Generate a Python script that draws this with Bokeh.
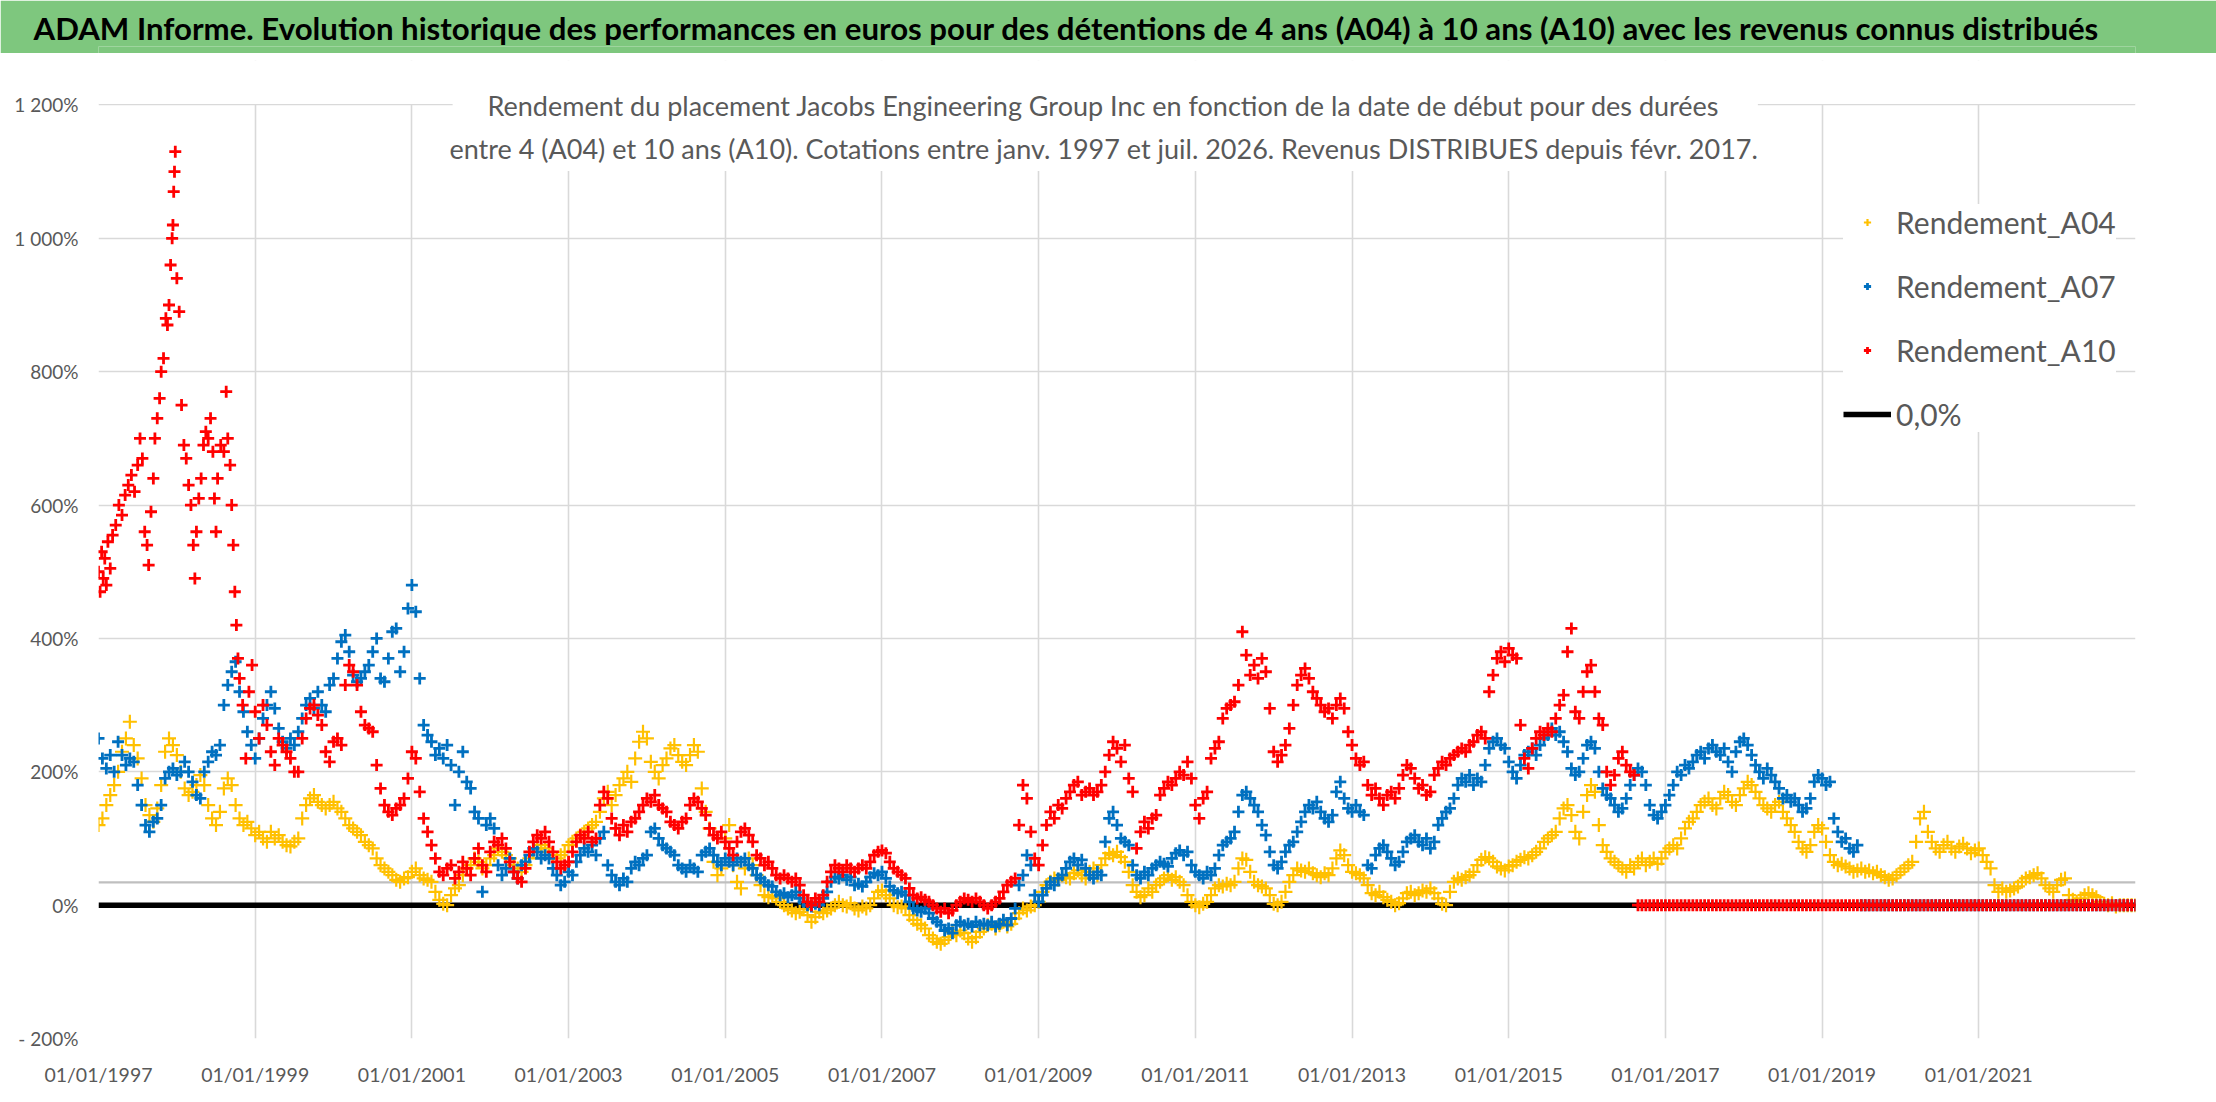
import numpy as np
from bokeh.plotting import figure
from bokeh.layouts import column
from bokeh.models import (FixedTicker, Label, BoxAnnotation, Legend, LegendItem, Range1d)
from bokeh.embed import file_html
from bokeh.resources import INLINE

# ---------------- DATA ----------------
title_text = ("ADAM Informe. Evolution historique des performances en euros pour des "
              "détentions de 4 ans (A04) à 10 ans (A10) avec les revenus connus distribués")
subtitle_lines = [
    "Rendement du placement Jacobs Engineering Group Inc en fonction de la date de début pour des durées",
    "entre 4 (A04) et 10 ans (A10). Cotations entre janv. 1997 et juil. 2026. Revenus DISTRIBUES depuis févr. 2017.",
]
series_names = ["Rendement_A04", "Rendement_A07", "Rendement_A10", "0,0%"]

x_tick_years = [1997, 1999, 2001, 2003, 2005, 2007, 2009, 2011, 2013, 2015, 2017, 2019, 2021]
x_tick_labels = ["01/01/1997", "01/01/1999", "01/01/2001", "01/01/2003", "01/01/2005",
                 "01/01/2007", "01/01/2009", "01/01/2011", "01/01/2013", "01/01/2015",
                 "01/01/2017", "01/01/2019", "01/01/2021"]
y_tick_values = [-200, 0, 200, 400, 600, 800, 1000, 1200]
y_tick_labels = ["- 200%", "0%", "200%", "400%", "600%", "800%", "1 000%", "1 200%"]

# sampling grid for the series (decimal years, every 0.05 year)
grid_step = 0.05

# Rendement_A04 (%), one row per year (20 samples), from 1997.00
a04_start = 1997.0
a04_values = [
    120, 130, 150, 165, 180, 200, 230, 250, 275, 240, 220, 190, 150, 135, 125, 145, 180, 230, 250, 240,  # 1997
    225, 200, 175, 165, 170, 180, 195, 180, 150, 130, 120, 140, 175, 190, 180, 150, 130, 120, 125, 115,  # 1998
    105, 110, 100, 95, 110, 100, 105, 95, 90, 88, 95, 100, 130, 150, 160, 165, 155, 150, 145, 150,  # 1999
    155, 145, 140, 130, 120, 115, 110, 105, 95, 90, 85, 70, 60, 55, 50, 45, 38, 35, 40, 42,  # 2000
    50, 55, 45, 40, 38, 35, 20, 8, 2, 0, 15, 25, 30, 45, 55, 60, 70, 65, 55, 60,  # 2001
    70, 75, 85, 80, 75, 70, 60, 55, 50, 60, 70, 80, 85, 90, 85, 80, 75, 70, 75, 80,  # 2002
    90, 95, 100, 105, 110, 115, 120, 125, 140, 160, 170, 150, 165, 180, 190, 200, 185, 220, 245, 260,  # 2003
    250, 215, 200, 190, 210, 220, 235, 240, 225, 215, 210, 225, 240, 230, 175, 140, 115, 65, 45, 55,  # 2004
    100, 120, 60, 35, 25, 55, 70, 60, 45, 30, 15, 12, 14, 10, 5, 0, -5, -8, -12, -10,  # 2005
    -6, -15, -25, -18, -10, -12, -8, -5, 0, 5, 0, -2, 3, -5, -8, -2, -5, 0, 10, 20,  # 2006
    22, 15, 10, 0, -3, -2, -5, -15, -22, -28, -30, -35, -45, -50, -55, -58, -52, -48, -40, -45,  # 2007
    -38, -42, -50, -55, -48, -40, -35, -30, -28, -35, -30, -25, -32, -28, -20, -12, -5, -8, -2, 0,  # 2008
    5, 20, 30, 35, 40, 38, 45, 42, 40, 48, 52, 45, 40, 50, 55, 45, 60, 70, 78, 75,  # 2009
    80, 72, 65, 50, 30, 20, 12, 15, 25, 20, 30, 35, 40, 45, 38, 42, 35, 30, 15, 5,  # 2010
    0, -3, 2, 5, 15, 25, 30, 28, 32, 30, 35, 55, 70, 68, 50, 35, 30, 28, 25, 15,  # 2011
    2, 0, 5, 20, 35, 45, 55, 52, 50, 55, 48, 45, 42, 48, 45, 55, 70, 82, 75, 60,  # 2012
    50, 48, 45, 40, 30, 18, 15, 20, 12, 8, 5, 0, 3, 10, 18, 20, 15, 18, 22, 20,  # 2013
    25, 18, 10, 2, 0, 20, 35, 40, 38, 42, 45, 50, 60, 68, 72, 70, 65, 58, 55, 52,  # 2014
    58, 60, 65, 68, 72, 70, 75, 80, 85, 95, 100, 105, 110, 130, 145, 150, 135, 110, 100, 140,  # 2015
    165, 180, 170, 120, 90, 80, 70, 65, 60, 55, 50, 60, 55, 65, 70, 60, 65, 70, 62, 70,  # 2016
    80, 85, 90, 85, 100, 115, 125, 130, 140, 150, 155, 160, 150, 145, 160, 170, 165, 155, 150, 165,  # 2017
    175, 185, 180, 170, 160, 150, 145, 140, 150, 155, 140, 130, 120, 110, 95, 85, 80, 90, 110, 120,  # 2018
    115, 95, 75, 65, 60, 62, 58, 55, 50, 52, 55, 50, 52, 48, 50, 45, 42, 38, 40, 45,  # 2019
    50, 55, 60, 65, 95, 130, 140, 110, 95, 85, 80, 90, 95, 85, 80, 88, 92, 85, 78, 82,  # 2020
    85, 75, 65, 55, 30, 20, 25, 20, 22, 25, 28, 35, 40, 42, 45, 48, 40, 30, 25, 20,  # 2021
    30, 38, 40, 15, 8, 5, 10, 15, 18, 15, 12, 5, 2, 0, 3, -2, 0, 0, 0, 0,  # 2022
    0,  # 2023
]

# Rendement_A07 (%), from 1997.00 to 2019.45, then zero (no data) until 2023
a07_start = 1997.0
a07_values = [
    250, 220, 205, 225, 200, 245, 225, 210, 220, 215, 180, 150, 120, 110, 125, 130, 150, 190, 200, 205,  # 1997
    195, 200, 215, 200, 185, 165, 160, 200, 215, 230, 225, 240, 300, 330, 350, 365, 320, 290, 260, 240,  # 1998
    220, 250, 280, 300, 320, 295, 265, 245, 235, 250, 240, 260, 280, 300, 310, 295, 320, 300, 290, 330,  # 1999
    340, 370, 395, 405, 380, 345, 335, 340, 350, 360, 380, 400, 340, 335, 370, 410, 415, 350, 380, 445,  # 2000
    480, 440, 340, 270, 255, 245, 225, 235, 220, 240, 210, 150, 200, 230, 185, 175, 140, 130, 20, 120,  # 2001
    130, 115, 60, 45, 55, 70, 50, 40, 60, 65, 75, 85, 80, 70, 75, 70, 55, 45, 30, 35,  # 2002
    50, 45, 65, 75, 85, 80, 90, 75, 100, 110, 60, 45, 35, 30, 40, 35, 55, 65, 60, 70,  # 2003
    75, 110, 115, 100, 90, 85, 80, 75, 60, 55, 50, 60, 55, 50, 75, 80, 85, 75, 65, 60,  # 2004
    70, 65, 60, 70, 65, 70, 60, 55, 45, 40, 35, 30, 28, 20, 15, 18, 12, 15, 20, 10,  # 2005
    5, 0, -2, 2, 0, 10, 20, 35, 42, 40, 45, 38, 42, 30, 32, 28, 35, 42, 48, 45,  # 2006
    50, 40, 28, 22, 18, 20, 15, 5, -5, -8, -10, -5, -12, -20, -25, -30, -38, -35, -42, -30,  # 2007
    -25, -30, -28, -32, -25, -30, -28, -30, -25, -32, -28, -22, -30, -20, -5, 30, 45, 75, 60, 15,  # 2008
    5, 15, 25, 35, 30, 40, 45, 55, 65, 70, 60, 68, 55, 45, 40, 50, 45, 95, 130, 140,  # 2009
    120, 100, 95, 90, 60, 45, 40, 50, 45, 55, 60, 65, 62, 58, 70, 78, 82, 75, 80, 60,  # 2010
    50, 45, 40, 50, 45, 55, 75, 90, 95, 100, 110, 140, 165, 170, 160, 150, 140, 120, 105, 80,  # 2011
    60, 55, 65, 80, 90, 95, 110, 125, 140, 150, 145, 155, 140, 130, 125, 135, 170, 185, 160, 145,  # 2012
    140, 150, 140, 135, 60, 55, 75, 85, 90, 80, 70, 60, 65, 80, 95, 100, 105, 95, 90, 100,  # 2013
    85, 95, 120, 130, 140, 145, 160, 180, 190, 185, 195, 180, 190, 185, 210, 235, 245, 250, 240, 235,  # 2014
    215, 200, 190, 210, 225, 230, 235, 225, 240, 250, 255, 265, 255, 260, 245, 230, 205, 195, 200, 220,  # 2015
    240, 245, 235, 200, 175, 165, 160, 150, 140, 145, 160, 180, 195, 205, 200, 180, 150, 135, 130, 140,  # 2016
    150, 165, 180, 200, 195, 210, 205, 215, 225, 230, 220, 235, 240, 230, 225, 235, 215, 200, 230, 245,  # 2017
    250, 240, 225, 210, 200, 190, 205, 195, 185, 175, 160, 165, 155, 160, 150, 140, 145, 160, 185, 195,  # 2018
    190, 180, 185, 130, 110, 95, 100, 85, 80, 90,  # 2019 (to 2019.45)
]
a07_zero_tail_count = 71          # 2019.50 .. 2023.00 shown at 0 %

# Rendement_A10 (%): dense early part (explicit dates), then grid from 1999.00 to 2016.60
a10_early_years = [
    1997.00, 1997.02, 1997.04, 1997.06, 1997.08, 1997.10, 1997.12, 1997.15, 1997.18, 1997.22,
    1997.26, 1997.30, 1997.34, 1997.38, 1997.42, 1997.46, 1997.50, 1997.53, 1997.56, 1997.59,
    1997.62, 1997.64, 1997.67, 1997.70, 1997.72, 1997.75, 1997.78, 1997.80, 1997.83, 1997.86,
    1997.88, 1997.90, 1997.92, 1997.94, 1997.95, 1997.96, 1997.97, 1997.98, 1998.00, 1998.03,
    1998.06, 1998.09, 1998.12, 1998.15, 1998.18, 1998.21, 1998.23, 1998.25, 1998.28, 1998.31,
    1998.34, 1998.37, 1998.40, 1998.43, 1998.46, 1998.48, 1998.50, 1998.52, 1998.56, 1998.60,
    1998.63, 1998.65, 1998.68, 1998.70, 1998.72, 1998.74, 1998.76, 1998.78, 1998.80, 1998.84,
    1998.88, 1998.92, 1998.96,
]
a10_early_values = [
    500, 470, 530, 490, 520, 480, 545, 505, 555, 570,
    600, 585, 615, 630, 645, 620, 660, 700, 670, 560,
    540, 510, 590, 640, 700, 730, 760, 800, 820, 880,
    870, 900, 960, 1000, 1020, 1070, 1100, 1130, 940, 890,
    750, 690, 670, 630, 600, 540, 490, 560, 610, 640,
    690, 710, 700, 730, 680, 610, 560, 640, 690, 680,
    770, 700, 660, 600, 540, 470, 420, 370, 340, 300,
    220, 320, 360,
]
a10_start = 1999.0
a10_values = [
    290, 250, 300, 270, 230, 210, 250, 240, 230, 220, 200, 200, 250, 280, 295, 300, 285, 270, 230, 215,  # 1999
    245, 250, 240, 330, 360, 350, 330, 290, 270, 265, 260, 210, 175, 150, 140, 135, 145, 150, 160, 190,  # 2000
    230, 220, 170, 130, 110, 90, 70, 50, 45, 55, 60, 40, 50, 65, 55, 45, 70, 85, 60, 50,  # 2001
    80, 95, 90, 100, 85, 65, 50, 40, 35, 55, 80, 95, 105, 100, 110, 95, 80, 65, 55, 60,  # 2002
    65, 80, 95, 105, 100, 110, 95, 100, 150, 170, 160, 130, 115, 105, 120, 110, 125, 130, 140, 150,  # 2003
    160, 155, 165, 150, 145, 140, 125, 120, 115, 125, 130, 150, 160, 155, 145, 135, 115, 105, 100, 110,  # 2004
    95, 85, 75, 95, 110, 115, 105, 95, 75, 70, 60, 65, 55, 45, 40, 45, 40, 35, 40, 30,  # 2005
    15, 5, 0, 10, 5, 15, 35, 50, 60, 55, 50, 60, 55, 50, 55, 60, 55, 65, 75, 80,  # 2006
    82, 78, 65, 55, 50, 45, 40, 25, 15, 10, 12, 8, 5, 0, -5, -10, -5, -12, -8, 0,  # 2007
    5, 10, 8, 5, 10, 5, 0, -5, 0, 5, 10, 20, 30, 35, 40, 120, 180, 160, 110, 70,  # 2008
    60, 90, 120, 140, 130, 150, 145, 160, 170, 180, 185, 165, 170, 175, 165, 170, 180, 200, 225, 245,  # 2009
    235, 215, 240, 190, 170, 85, 110, 125, 115, 130, 135, 165, 175, 185, 180, 190, 200, 195, 215, 190,  # 2010
    150, 130, 160, 170, 220, 235, 245, 280, 295, 300, 305, 330, 410, 375, 345, 360, 340, 370, 350, 295,  # 2011
    230, 215, 225, 240, 265, 300, 330, 345, 355, 340, 320, 310, 300, 290, 295, 280, 300, 310, 295, 260,  # 2012
    240, 220, 210, 215, 180, 165, 175, 160, 150, 165, 170, 160, 175, 195, 210, 205, 190, 175, 180, 165,  # 2013
    170, 195, 205, 215, 210, 220, 225, 230, 235, 230, 240, 245, 255, 260, 250, 320, 345, 370, 380, 365,  # 2014
    385, 375, 370, 270, 220, 205, 235, 250, 260, 255, 265, 260, 280, 300, 315, 380, 415, 290, 280, 320,  # 2015
    350, 360, 320, 280, 270, 200, 180, 195, 220, 230, 210, 200, 195,  # 2016 (to 2016.60)
]
a10_zero_tail_count = 128         # 2016.65 .. 2023.00 shown at 0 %

zero_line_years = [1997.0, 2023.0]
zero_line_values = [0.0, 0.0]
ref_line_years = [1997.0, 2023.0]
ref_line_values = [34.0, 34.0]


def on_grid(start, n):
    return [round(start + grid_step * i, 4) for i in range(n)]


a04_x = on_grid(a04_start, len(a04_values))
a04_y = list(a04_values)

a07_x = on_grid(a07_start, len(a07_values) + a07_zero_tail_count)
a07_y = list(a07_values) + [0.0] * a07_zero_tail_count

a10_grid_x = on_grid(a10_start, len(a10_values) + a10_zero_tail_count)
a10_x = list(a10_early_years) + a10_grid_x
a10_y = list(a10_early_values) + list(a10_values) + [0.0] * a10_zero_tail_count

# ---------------- STYLE ----------------
FONT = "Lato"
GREY_TXT = "#595959"
GRID = "#D9D9D9"
GREEN = "#7EC77E"
W = 2216
ML, MR = 98, 81

# ---------------- TITLE BAND (own small figure, same side borders as the chart) ----------------
TH = 53
t = figure(width=W, height=TH, output_backend="svg", toolbar_location=None,
           x_range=Range1d(0, 1), y_range=Range1d(0, 1),
           x_axis_type=None, y_axis_type=None,
           min_border_left=ML, min_border_right=MR, min_border_top=46, min_border_bottom=0)
t.background_fill_color = GREEN
t.border_fill_color = GREEN
t.outline_line_color = None
t.grid.visible = False
t.title.text = title_text
t.title.align = "left"
t.title.offset = -65
t.title.standoff = 0
t.title.text_font = FONT
t.title.text_font_style = "bold"
t.title.text_font_size = "31.2px"
t.title.text_color = "black"

# ---------------- MAIN CHART ----------------
H = 1049
MT, MB = 7, 64
Y_LO, Y_HI = -200, 1266.7

p = figure(width=W, height=H, output_backend="svg", toolbar_location=None,
           x_range=Range1d(1997, 2023), y_range=Range1d(Y_LO, Y_HI),
           min_border_left=ML, min_border_right=MR, min_border_top=MT, min_border_bottom=MB)
p.background_fill_color = "white"
p.border_fill_color = "white"
p.outline_line_color = None

p.xaxis.ticker = FixedTicker(ticks=x_tick_years)
p.xaxis.major_label_overrides = {k: v for k, v in zip(x_tick_years, x_tick_labels)}
p.yaxis.ticker = FixedTicker(ticks=y_tick_values)
p.yaxis.major_label_overrides = {k: v for k, v in zip(y_tick_values, y_tick_labels)}
for ax in (p.xaxis, p.yaxis):
    ax.axis_line_color = None
    ax.major_tick_line_color = None
    ax.minor_tick_line_color = None
    ax.major_tick_out = 0
    ax.major_tick_in = 0
    ax.minor_tick_out = 0
    ax.minor_tick_in = 0
    ax.major_label_text_font = FONT
    ax.major_label_text_color = GREY_TXT
p.xaxis.major_label_text_font_size = "19.5px"
p.yaxis.major_label_text_font_size = "19px"
p.xaxis.major_label_standoff = 24
p.yaxis.major_label_standoff = 20

p.xgrid.grid_line_color = GRID
p.ygrid.grid_line_color = GRID
p.xgrid.grid_line_width = 1.6
p.ygrid.grid_line_width = 1.6

# white strip above the 1 200 % line (vertical grid lines stop at 1 200 %)
p.add_layout(BoxAnnotation(bottom=1201.3, fill_color="white", fill_alpha=1,
                           line_color=None, level="underlay"))

# reference lines
p.line(ref_line_years, ref_line_values, line_color="#BFBFBF", line_width=2.2)
r_zero = p.line(zero_line_years, zero_line_values, line_color="black", line_width=5.5)

# series
r04 = p.scatter(x=a04_x, y=a04_y, marker="cross", size=14, line_color="#FFC000", line_width=2.2)
r07 = p.scatter(x=a07_x, y=a07_y, marker="cross", size=12, line_color="#0070C0", line_width=2.8)
r10 = p.scatter(x=a10_x, y=a10_y, marker="cross", size=12, line_color="#FF0000", line_width=2.8)

# chart subtitle on a white box overlapping the top grid line
p.add_layout(BoxAnnotation(left=2001.52, right=2018.18, bottom=1101,
                           fill_color="white", fill_alpha=1, line_color=None))
sub_x = 2009.83
sub_y = [1198.5, 1134.0]
for line, yv in zip(subtitle_lines, sub_y):
    p.add_layout(Label(x=sub_x, y=yv, text=line, text_align="center", text_baseline="middle",
                       text_font=FONT, text_font_size="27px", text_color=GREY_TXT))

# legend
legend = Legend(items=[LegendItem(label=series_names[0], renderers=[r04]),
                       LegendItem(label=series_names[1], renderers=[r07]),
                       LegendItem(label=series_names[2], renderers=[r10]),
                       LegendItem(label=series_names[3], renderers=[r_zero])],
                location=(1745, 606), orientation="vertical",
                label_text_font=FONT, label_text_font_size="30px", label_text_color=GREY_TXT,
                glyph_width=48, glyph_height=18, label_height=30, spacing=28, padding=17,
                margin=0, label_standoff=5, background_fill_color="white", background_fill_alpha=1,
                border_line_color=None)
p.add_layout(legend)

layout = column(t, p, spacing=0)
open("out.html", "w").write(file_html(layout, INLINE))
